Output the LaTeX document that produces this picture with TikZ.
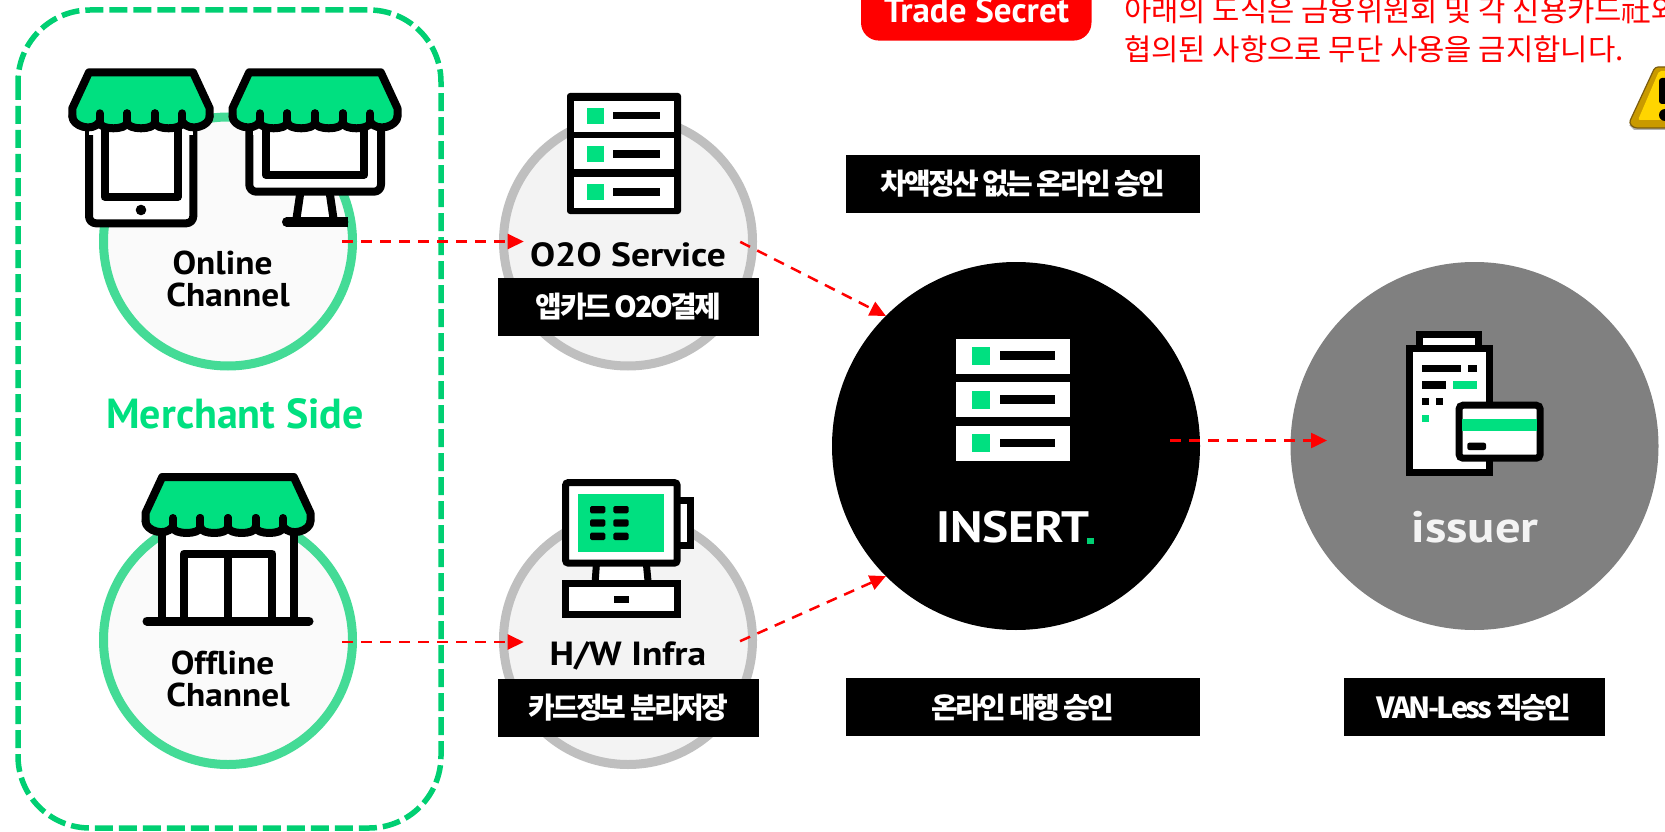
\documentclass[tikz,border=0pt]{standalone}
\usepackage{fontspec}
\setmainfont{PT Sans}
\newfontfamily\spaced[FakeStretch=1.07,Ligatures=NoCommon]{PT Sans}
\newfontfamily\wide[FakeStretch=1.12]{PT Sans}
\newfontfamily\wider[FakeStretch=1.15]{PT Sans}
\newfontfamily\kr{Noto Sans CJK KR}
\newfontfamily\krtight[LetterSpace=-9]{Noto Sans CJK KR}
\newfontfamily\krtighter[LetterSpace=-10]{Noto Sans CJK KR}
\usetikzlibrary{arrows.meta}
\definecolor{grn}{HTML}{00E080}
\definecolor{dashgrn}{HTML}{00CF72}
\definecolor{ringgrn}{HTML}{44DB96}
\definecolor{ringgray}{HTML}{BFBFBF}
\definecolor{softgray}{HTML}{F3F3F3}
\definecolor{softwhite}{HTML}{FAFAFA}
\definecolor{issuergray}{HTML}{808080}
\definecolor{bevel}{HTML}{C99A00}
\definecolor{bevelline}{HTML}{7A5C10}
\definecolor{warnyellow}{HTML}{FFD500}
\newcommand{\fsz}[1]{\fontsize{#1}{#1}\selectfont}
% awning: centre x, centre line of top edge, half width, scallop edges
\newcommand{\awn}[4]{%
  \begin{scope}[shift={(#1,#2)}]
    \fill[grn] (-#3+16.7,0) -- (#3-16.7,0) -- (#3,36) -- (#3,50) -- (-#3,50) -- (-#3,36) -- cycle;
    \foreach \a/\b in {#4} {
      \fill[grn] (\a,50) .. controls (\a,58) and (\b,58) .. (\b,50);
    }
    \fill[grn] (-#3,44) .. controls (-#3,54) and (-#3+20,60) .. (-#3+27,50) -- cycle;
    \fill[grn] (#3,44) .. controls (#3,54) and (#3-20,60) .. (#3-27,50) -- cycle;
    \draw[iconline,line cap=round] (-#3,44) -- (-#3,36) -- (-#3+16.7,0) -- (#3-16.7,0) -- (#3,36) -- (#3,44);
    \foreach \a/\b in {#4} {
      \draw[iconline,line cap=round] (\a,50) .. controls (\a,58) and (\b,58) .. (\b,50);
      \draw[iconline,line cap=round] (\a,50) -- (\a,41);
      \draw[iconline,line cap=round] (\b,50) -- (\b,41);
    }
    \draw[iconline,line cap=round] (-#3,44) .. controls (-#3,54) and (-#3+20,60) .. (-#3+27,50);
    \draw[iconline,line cap=round] (#3,44) .. controls (#3,54) and (#3-20,60) .. (#3-27,50);
  \end{scope}}
\tikzset{
  x=1pt,y=-1pt,
  iconline/.style={draw=black,line width=8pt,line join=round},
  thinline/.style={draw=black,line width=7pt},
  ringgreen/.style={circle,outer sep=0pt,inner sep=0pt,minimum size=249pt,draw=ringgrn,line width=9pt,fill=softwhite},
  ringgrey/.style={circle,outer sep=0pt,inner sep=0pt,minimum size=249pt,draw=ringgray,line width=9pt,fill=softgray},
  bigdisc/.style={circle,outer sep=0pt,inner sep=0pt,minimum size=368pt},
  flow/.style={draw=red,line width=2.5pt,dash pattern=on 11pt off 8pt,-{Triangle[length=16pt,width=15pt,fill=red]}},
  tag/.style={fill=black,text=white,inner sep=0pt,outer sep=0pt,anchor=north west,align=center,font=\krtight\bfseries\fsz{29}},
  tagnarrow/.style={tag,font=\krtighter\bfseries\fsz{29}},
  sidelabel/.style={anchor=base,inner sep=0pt,font=\spaced\bfseries\fsz{33}},
  servicelabel/.style={anchor=base,inner sep=0pt,font=\wide\bfseries\fsz{33.5}},
  redtext/.style={anchor=base west,inner sep=0pt,text=red,font=\kr\fsz{29.7}},
}
\begin{document}
\begin{tikzpicture}
\useasboundingbox (0,0) rectangle (1665,832);
\clip (0,0) rectangle (1665,832);

% merchant frame
\draw[dashgrn,line width=5.5pt,dash pattern=on 18pt off 6pt,rounded corners=72pt] (18,10) rectangle (441,828);

% circles
\node[ringgreen] (online) at (228,241.5) {};
\node[ringgreen] (offline) at (228,640) {};
\node[ringgrey] (o2o) at (628,241.5) {};
\node[ringgrey] (hw) at (628,640) {};
\node[bigdisc,fill=black] (insert) at (1016,446) {};
\node[bigdisc,fill=issuergray] (issuer) at (1474.5,446) {};

% tablet store
\draw[iconline,fill=white,rounded corners=7pt] (89,115) -- (89,223.3) -- (193.3,223.3) -- (193.3,115);
\fill[white] (89,115) rectangle (193.3,135);
\draw[iconline,fill=white] (104.5,115) rectangle (177.8,196.9);
\fill[black] (141,210) circle (5.3);
\awn{141}{72.3}{68.7}{-41.4/-13.8,-13.8/13.8,13.8/41.4}

% desktop store
\draw[iconline,fill=white] (301,188) -- (296,222) -- (334,222) -- (329,188) -- cycle;
\draw[line width=9.4pt,line cap=round] (286.7,222) -- (343.6,222);
\fill[black] (343,217.3) rectangle (348.3,226.7);
\draw[iconline,fill=white,rounded corners=7pt] (249.3,115) -- (249.3,191.7) -- (381,191.7) -- (381,115);
\fill[white] (253,115) rectangle (377,135);
\draw[iconline,fill=white] (265.7,115) rectangle (364.3,174.8);
\awn{315}{72.3}{82.5}{-55.2/-27.6,-27.6/0,0/27.6,27.6/55.2}

% offline store
\fill[white] (162,520) rectangle (294,620);
\draw[iconline] (162,520) -- (162,621);
\draw[iconline] (294,520) -- (294,621);
\draw[iconline,fill=white] (184,621) -- (184,553.7) -- (272.3,553.7) -- (272.3,621);
\draw[iconline] (228,553.7) -- (228,621);
\draw[line width=9pt,line cap=round] (147,621) -- (309,621);
\awn{228}{477}{82.5}{-55.2/-27.6,-27.6/0,0/27.6,27.6/55.2}

% server icon over O2O
\fill[black,rounded corners=3pt] (567,93) rectangle (681,214);
\foreach \t/\g/\b in {100.7/107.7/112,138/146/150.3,176.7/184/188.3} {
  \fill[white] (574,\t) rectangle (674,\t+31);
  \fill[grn] (587.3,\g) rectangle (603.7,\g+16);
  \fill[black] (613,\b) rectangle (660.3,\b+7.5);
}

% POS icon
\draw[thinline,fill=white] (596.7,560) -- (595,584) -- (648.3,584) -- (646,560) -- cycle;
\draw[thinline,fill=white] (677,500.7) -- (690.7,500.7) -- (690.7,545) -- (677,545);
\draw[thinline,fill=white,rounded corners=3pt] (565.5,482.5) rectangle (677.2,563.2);
\fill[grn] (578,494) rectangle (664.3,551.7);
\foreach \cx in {590,613.3} {
  \foreach \ry in {506,519.3,532.7} {
    \fill[black,rounded corners=1.5pt] (\cx,\ry) rectangle (\cx+15.3,\ry+7.3);
  }
}
\draw[thinline,fill=white] (565.5,583.5) rectangle (677.2,614.5);
\fill[black] (614,595.7) rectangle (628.7,603);

% INSERT server icon
\foreach \t/\g/\b in {338.7/346.7/351.3,382/390.7/395.3,425.7/434/438.7} {
  \fill[white] (956,\t) rectangle (1069.7,\t+35);
  \fill[grn] (971.7,\g) rectangle (989.7,\g+18);
  \fill[black] (1000.3,\b) rectangle (1054.7,\b+8.7);
}

% issuer icon
\draw[thinline,fill=white] (1419.8,334.5) rectangle (1478.8,349);
\draw[thinline,fill=white] (1409.6,348.8) rectangle (1489.5,472.3);
\fill[black] (1422,364.7) rectangle (1461.3,372);
\fill[black] (1468.3,364.7) rectangle (1476.7,372);
\fill[black] (1422,381.3) rectangle (1446,388.7);
\fill[grn] (1453,381.3) rectangle (1477,388.7);
\fill[black] (1422,398.3) rectangle (1429,405.3);
\fill[black] (1436,398.3) rectangle (1443,405.3);
\fill[grn] (1422,415) rectangle (1429,422);
\draw[thinline,fill=white,rounded corners=4pt] (1459,405.2) rectangle (1540.2,458.2);
\fill[grn] (1462.3,419.3) rectangle (1536.7,430.7);
\fill[black,rounded corners=2pt] (1467.3,442.7) rectangle (1486,450);

% warning icon
\fill[black!30] (1629,125) -- (1634,130) -- (1670,130) -- (1670,124) -- cycle;
\fill[bevel,draw=bevelline,line width=1.2pt,rounded corners=3pt] (1655,67) -- (1629,123) -- (1634,128) -- (1672,128) -- (1672,67) -- cycle;
\fill[warnyellow,rounded corners=2pt] (1659,71) -- (1638,120) -- (1672,120) -- (1672,71) -- cycle;
\fill[black,rounded corners=3pt] (1659,78) rectangle (1672,104);
\fill[black] (1665,115) circle (6);

% connectors
\draw[flow,shorten <=-10.5pt,shorten >=-20.2pt] (online.east) -- (o2o.west);
\draw[flow,shorten <=-10.5pt,shorten >=-20.2pt] ([yshift=-2pt]offline.east) -- ([yshift=-2pt]hw.west);
\draw[flow,shorten <=-13.6pt] (o2o.-3) -- (insert.135);
\draw[flow,shorten <=-13.6pt] (hw.2) -- (insert.225);
\draw[flow,shorten <=-30pt,shorten >=-36.5pt] ([yshift=5.5pt]insert.east) -- ([yshift=5.5pt]issuer.west);

% texts
\node[sidelabel] (t1) at (222.5,274) {Online};
\node[sidelabel] (t2) at (228,306) {Channel};
\node[sidelabel] (t3) at (222.5,674) {Offline};
\node[sidelabel] (t4) at (228,706) {Channel};
\node[anchor=base,inner sep=0pt,text=grn,font=\bfseries\fsz{42}] (merchant) at (235,428) {Merchant Side};
\node[servicelabel] (t5) at (628,266) {O2O Service};
\node[servicelabel] (t6) at (628,665) {H/W Infra};
\node[anchor=base,inner sep=0pt,text=white,font=\wide\bfseries\fsz{44}] (insertlabel) at (1013,542.7) {INSERT};
\fill[dashgrn] (1087.3,538) rectangle (1094,544);
\node[anchor=base,inner sep=0pt,text=softgray,font=\wider\bfseries\fsz{44}] (issuerlabel) at (1475,542.7) {issuer};

% tags
\node[tag,minimum width=261pt,minimum height=58pt] (tag1) at (498,278) {앱카드 O2O결제};
\node[tagnarrow,minimum width=261pt,minimum height=58pt] (tag2) at (498,679) {카드정보 분리저장};
\node[tagnarrow,minimum width=354pt,minimum height=58pt] (tag3) at (846,155) {차액정산 없는 온라인 승인};
\node[tagnarrow,minimum width=354pt,minimum height=58pt] (tag4) at (846,678.3) {온라인 대행 승인};
\node[tag,minimum width=261pt,minimum height=58pt] (tag5) at (1343.7,678.3) {VAN-Less 직승인};

% trade secret
\node[fill=red,rounded corners=18pt,inner sep=0pt,outer sep=0pt,minimum width=230.5pt,minimum height=70pt,anchor=south west] (badge) at (861,40.6) {};
\node[anchor=base,inner sep=0pt,text=white,font=\bfseries\fsz{35}] (badgetext) at (976.5,23) {Trade Secret};
\node[redtext] (warn1) at (1124,22) {아래의 도식은 금융위원회 및 각 신용카드社와};
\node[redtext] (warn2) at (1124,61) {협의된 사항으로 무단 사용을 금지합니다.};
\end{tikzpicture}
\end{document}
